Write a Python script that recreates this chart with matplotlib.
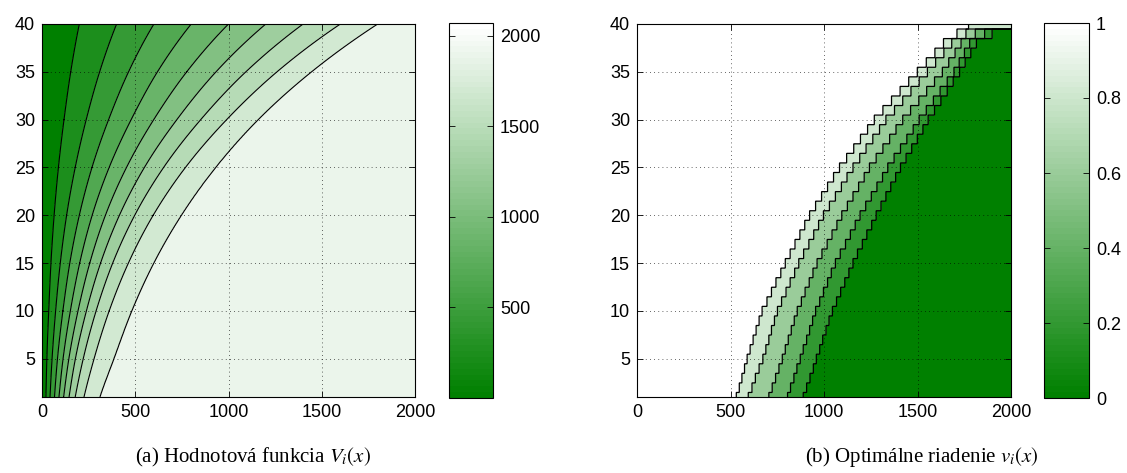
import numpy as np
import matplotlib
matplotlib.use("Agg")
import matplotlib.pyplot as plt
from matplotlib.colors import LinearSegmentedColormap, Normalize
from matplotlib.cm import ScalarMappable

plt.rcParams['font.family'] = ['Liberation Sans', 'DejaVu Sans']
plt.rcParams['mathtext.fontset'] = 'stix'

# ---------------- data ----------------
# Panel (a): value function V_i(x); x-position of each contour level at anchor rows i
a_levels = [200, 400, 600, 800, 1000, 1200, 1400, 1600, 1800]
a_vmax = 2070
a_rows = [1, 5, 10, 15, 20, 25, 30, 35, 40]
a_contour_x = [
    [21, 43, 67, 91, 116, 145, 178, 225, 310],          # i = 1
    [26, 54, 83, 113, 144, 179, 221, 279, 385],         # i = 5
    [36, 73, 112, 152, 193, 238, 290, 360, 481],        # i = 10
    [48, 98, 149, 202, 256, 314, 379, 463, 599],        # i = 15
    [65, 132, 200, 269, 340, 415, 497, 596, 747],       # i = 20
    [88, 178, 268, 360, 453, 549, 652, 769, 931],       # i = 25
    [118, 237, 357, 478, 599, 723, 851, 990, 1159],     # i = 30
    [154, 309, 464, 619, 776, 933, 1093, 1260, 1445],   # i = 35
    [200, 400, 600, 800, 1000, 1200, 1400, 1600, 1800], # i = 40
]

# Panel (b): optimal control v_i(x); band boundaries (v = 1 | 0.8 | 0.6 | 0.4 | 0.2 | 0)
b_values = [1.0, 0.8, 0.6, 0.4, 0.2, 0.0]
b_rows = [1, 5, 10, 15, 20, 25, 30, 35, 38, 39, 40]
b_edge1 = [532, 590, 670, 793, 923, 1084, 1270, 1500, 1639, 1711, 1773]
b_edge2 = [595, 673, 751, 865, 998, 1155, 1332, 1554, 1684, 1760, 2100]
b_edge3 = [705, 778, 858, 963, 1096, 1244, 1421, 1634, 1734, 1810, 2100]
b_edge4 = [805, 873, 956, 1061, 1194, 1342, 1510, 1696, 1779, 1860, 2100]
b_edge5 = [889, 960, 1045, 1155, 1280, 1410, 1558, 1725, 1815, 1900, 2100]

x_ticks = [0, 500, 1000, 1500, 2000]
y_ticks = [5, 10, 15, 20, 25, 30, 35, 40]
cb_a_ticks = [500, 1000, 1500, 2000]
cb_b_ticks = [0, 0.2, 0.4, 0.6, 0.8, 1]
captions = ["(a) Hodnotová funkcia $V_i(x)$", "(b) Optimálne riadenie $v_i(x)$"]

# ---------------- colormap ----------------
cmap = LinearSegmentedColormap.from_list("gw", [(0, 0.5, 0), (1, 1, 1)], N=64)


def smooth_interp(q, xs, ps):
    """Cubic Hermite (Catmull-Rom style) through the read anchor points."""
    xs = np.asarray(xs, float)
    ps = np.asarray(ps, float)
    n = len(xs)
    m = np.zeros(n)
    m[0] = (ps[1] - ps[0]) / (xs[1] - xs[0])
    m[-1] = (ps[-1] - ps[-2]) / (xs[-1] - xs[-2])
    for i in range(1, n - 1):
        m[i] = (ps[i + 1] - ps[i - 1]) / (xs[i + 1] - xs[i - 1])
    q = np.atleast_1d(np.asarray(q, float))
    k = np.clip(np.searchsorted(xs, q) - 1, 0, n - 2)
    h = xs[k + 1] - xs[k]
    t = (q - xs[k]) / h
    h00 = 2 * t**3 - 3 * t**2 + 1
    h10 = t**3 - 2 * t**2 + t
    h01 = -2 * t**3 + 3 * t**2
    h11 = t**3 - t**2
    return h00 * ps[k] + h10 * h * m[k] + h01 * ps[k + 1] + h11 * h * m[k + 1]


# ---------------- fields ----------------
xg = np.linspace(0, 2000, 1001)
yg = np.linspace(1, 40, 781)
XX, YY = np.meshgrid(xg, yg)

cx_arr = np.array(a_contour_x, dtype=float)
cx_smooth = np.column_stack([np.exp(smooth_interp(yg, a_rows, np.log(cx_arr[:, k])))
                             for k in range(len(a_levels))])
V = np.zeros_like(XX)
for j in range(len(yg)):
    cx = list(np.maximum.accumulate(cx_smooth[j]))
    V[j] = np.interp(xg, [0] + cx + [2000], [0] + a_levels + [2050])

edges = [b_edge1, b_edge2, b_edge3, b_edge4, b_edge5]
v = np.zeros_like(XX)
for j, yv in enumerate(yg):
    row = np.clip(np.floor(yv + 0.5), 1, 40)
    cnt = np.zeros_like(xg)
    for e in edges:
        cnt += (xg >= np.interp(row, b_rows, e))
    v[j] = 1.0 - 0.2 * cnt

# ---------------- figure ----------------
W, H = 1127, 473
fig = plt.figure(figsize=(W / 100, H / 100), dpi=100)


def px_axes(x0, y0, x1, y1):
    return fig.add_axes([x0 / W, (H - y1) / H, (x1 - x0) / W, (y1 - y0) / H])


ax1 = px_axes(42, 24, 415, 397)
cax1 = px_axes(449, 23, 493, 398)
ax2 = px_axes(637, 24, 1011, 397)
cax2 = px_axes(1044, 23, 1089, 398)

fs = 13

# panel a
fill_levels_a = [0] + a_levels + [2100]
colors_a = [cmap(min(1.0, (l + 30) / 2000)) for l in [0] + a_levels]
colors_a[0] = cmap(0.0)
ax1.contourf(XX, YY, V, levels=fill_levels_a, colors=colors_a)
ax1.contour(XX, YY, V, levels=a_levels, colors='black', linewidths=0.8)

# panel b
fill_levels_b = [-0.1, 0.1, 0.3, 0.5, 0.7, 0.9, 1.1]
colors_b = [cmap(val) for val in sorted(b_values)]
ax2.contourf(XX, YY, v, levels=fill_levels_b, colors=colors_b)
ax2.contour(XX, YY, v, levels=[0.1, 0.3, 0.5, 0.7, 0.9], colors='black', linewidths=0.9)

for ax in (ax1, ax2):
    ax.set_xlim(0, 2000)
    ax.set_ylim(1, 40)
    ax.set_xticks(x_ticks)
    ax.set_yticks(y_ticks)
    ax.tick_params(direction='in', length=4, width=0.6, top=True, right=True,
                   labelsize=fs, pad=5)
    ax.grid(True, linestyle=(0, (1, 4)), color='black', linewidth=0.6, alpha=0.8)
    ax.set_axisbelow(False)
    for s in ax.spines.values():
        s.set_linewidth(0.8)

cb1 = fig.colorbar(ScalarMappable(norm=Normalize(0, a_vmax), cmap=cmap), cax=cax1)
cb1.set_ticks(cb_a_ticks)
cb2 = fig.colorbar(ScalarMappable(norm=Normalize(0, 1), cmap=cmap), cax=cax2)
cb2.set_ticks(cb_b_ticks)
cb2.set_ticklabels(['0', '0.2', '0.4', '0.6', '0.8', '1'])
for cb in (cb1, cb2):
    cb.ax.tick_params(direction='in', length=4, width=0.6, left=True, right=True,
                      labelsize=fs, pad=5)
    cb.outline.set_linewidth(0.8)

fig.text(253 / W, (H - 457) / H, captions[0], ha='center', va='center',
         fontsize=15, family=['Liberation Serif', 'DejaVu Serif'])
fig.text(922 / W, (H - 457) / H, captions[1], ha='center', va='center',
         fontsize=15, family=['Liberation Serif', 'DejaVu Serif'])

fig.savefig("out.png", dpi=100)
